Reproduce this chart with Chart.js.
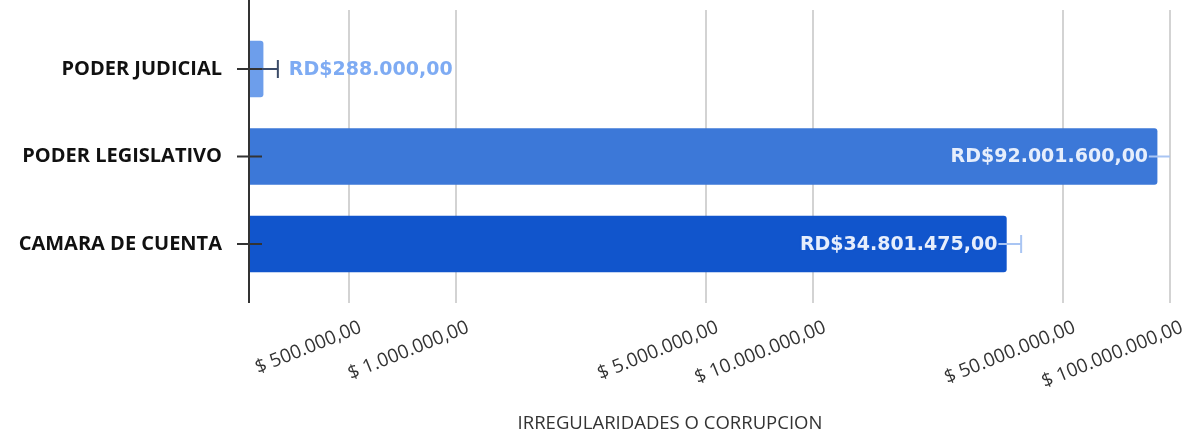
<!DOCTYPE html>
<html>
<head>
<meta charset="utf-8">
<script src="https://cdn.jsdelivr.net/npm/chart.js@4/dist/chart.umd.min.js"></script>
<style>
  html, body { margin: 0; padding: 0; background: #fff; }
</style>
</head>
<body>
<canvas id="grafico" width="1192" height="434"></canvas>
<script>
// datos
const categorias = ['PODER JUDICIAL', 'PODER LEGISLATIVO', 'CAMARA DE CUENTA'];
const montos = [288000, 92001600, 34801475];
const errorPct = [10, 10, 10];
const ticksValores = [500000, 1000000, 5000000, 10000000, 50000000, 100000000];
const ticksTextos = ['$ 500.000,00', '$ 1.000.000,00', '$ 5.000.000,00', '$ 10.000.000,00', '$ 50.000.000,00', '$ 100.000.000,00'];
const tituloX = 'IRREGULARIDADES O CORRUPCION';

const coloresBarra = ['#6d9eeb', '#3c78d8', '#1155cc'];
const coloresError = ['#3b4b68', '#a9c5f3', '#a9c5f3'];

// formato RD$92.001.600,00
function formatoRD(n) {
  const partes = n.toFixed(2).split('.');
  const entero = partes[0].replace(/\B(?=(\d{3})+(?!\d))/g, '.');
  return 'RD$' + entero + ',' + partes[1];
}

const extras = {
  id: 'extras',
  afterDatasetsDraw(chart) {
    const { ctx, chartArea, scales: { x, y } } = chart;
    const meta = chart.getDatasetMeta(0);

    // barras de error (porcentaje)
    ctx.save();
    ctx.beginPath();
    ctx.rect(chartArea.left, chartArea.top, chartArea.width, chartArea.height);
    ctx.clip();
    montos.forEach((m, i) => {
      const cy = y.getPixelForValue(i);
      const lo = x.getPixelForValue(m * (1 - errorPct[i] / 100));
      const hi = x.getPixelForValue(m * (1 + errorPct[i] / 100));
      ctx.strokeStyle = coloresError[i];
      ctx.lineWidth = 2;
      ctx.beginPath();
      ctx.moveTo(lo, cy); ctx.lineTo(hi, cy);
      ctx.moveTo(hi, cy - 9); ctx.lineTo(hi, cy + 9);
      ctx.stroke();
    });
    ctx.restore();

    // eje vertical y marcas
    ctx.save();
    ctx.strokeStyle = '#333';
    ctx.lineWidth = 2;
    ctx.beginPath();
    ctx.moveTo(chartArea.left, 0);
    ctx.lineTo(chartArea.left, chartArea.bottom);
    categorias.forEach((c, i) => {
      const cy = y.getPixelForValue(i);
      ctx.moveTo(chartArea.left - 12, cy);
      ctx.lineTo(chartArea.left + 13, cy);
    });
    ctx.stroke();
    ctx.restore();

    // etiquetas de valor
    ctx.save();
    ctx.font = 'bold 19px "DejaVu Sans"';
    ctx.textBaseline = 'middle';
    ctx.lineJoin = 'round';
    meta.data.forEach((bar, i) => {
      const txt = formatoRD(montos[i]);
      const w = ctx.measureText(txt).width;
      const ancho = bar.x - chartArea.left;
      if (ancho > w + 30) {
        ctx.textAlign = 'right';
        ctx.strokeStyle = coloresBarra[i];
        ctx.lineWidth = 4;
        ctx.strokeText(txt, bar.x - 9, bar.y + 1);
        ctx.fillStyle = '#e6eefc';
        ctx.fillText(txt, bar.x - 9, bar.y + 1);
      } else {
        const hi = x.getPixelForValue(montos[i] * (1 + errorPct[i] / 100));
        ctx.textAlign = 'left';
        ctx.fillStyle = '#7eabf3';
        ctx.fillText(txt, hi + 11, bar.y + 1);
      }
    });
    ctx.restore();
  },
  afterDraw(chart) {
    const { ctx } = chart;
    ctx.save();
    ctx.font = '18.5px "Open Sans"';
    ctx.fillStyle = '#333';
    ctx.textAlign = 'center';
    ctx.textBaseline = 'middle';
    ctx.fillText(tituloX, 670, 424);
    ctx.restore();
  }
};

new Chart(document.getElementById('grafico'), {
  type: 'bar',
  data: {
    datasets: [{
      data: montos.map((m, i) => ({ x: m, y: i })),
      backgroundColor: coloresBarra,
      barThickness: 56,
      borderRadius: 3
    }]
  },
  options: {
    indexAxis: 'y',
    responsive: false,
    animation: false,
    layout: { padding: { top: 10, right: 22, left: 0, bottom: 0 } },
    plugins: { legend: { display: false }, tooltip: { enabled: false } },
    scales: {
      x: {
        type: 'logarithmic',
        min: 263000,
        max: 100000000,
        afterBuildTicks: s => { s.ticks = ticksValores.map(v => ({ value: v })); },
        afterFit: s => { s.height = 131; s.paddingLeft = 0; s.paddingRight = 0; },
        grid: { color: '#d3d3d3', lineWidth: 2, drawTicks: false },
        border: { display: false },
        ticks: {
          autoSkip: false,
          minRotation: 22,
          maxRotation: 22,
          padding: 13,
          labelOffset: 12,
          color: '#333',
          font: { family: 'Open Sans', size: 19 },
          callback: (v, i) => ticksTextos[i]
        }
      },
      y: {
        type: 'linear',
        reverse: true,
        offset: false,
        min: -0.674,
        max: 2.674,
        afterBuildTicks: s => { s.ticks = categorias.map((c, i) => ({ value: i })); },
        afterFit: s => { s.width = 249; s.paddingTop = 0; s.paddingBottom = 0; },
        grid: { display: false, drawTicks: false },
        border: { display: false },
        ticks: {
          padding: 27,
          color: '#111',
          font: { family: 'Open Sans', size: 20, weight: 'bold' },
          callback: v => categorias[v]
        }
      }
    }
  },
  plugins: [extras]
});
</script>
</body>
</html>
